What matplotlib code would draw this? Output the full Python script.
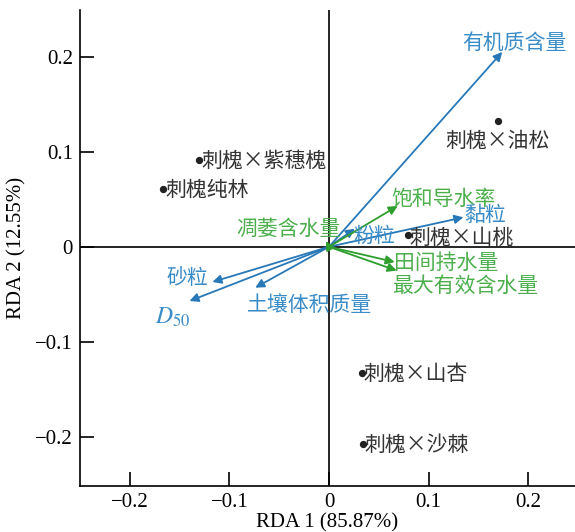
import matplotlib
matplotlib.use('Agg')
import matplotlib.pyplot as plt
import numpy as np

plt.rcParams['font.family'] = ['Liberation Serif', 'Noto Sans CJK SC']
plt.rcParams['mathtext.fontset'] = 'stix'
cjk = ['Noto Sans CJK SC', 'DejaVu Sans']

# sample sites (RDA scores)
site_names = ['刺槐×紫穗槐', '刺槐纯林', '刺槐×油松', '刺槐×山桃', '刺槐×山杏', '刺槐×沙棘']
site_x = [-0.1305, -0.1667, 0.170, 0.079, 0.033, 0.034]
site_y = [0.0916, 0.061, 0.1326, 0.0126, -0.133, -0.207]

# soil property vectors (blue)
soil_names = ['有机质含量', '黏粒', '粉粒', '砂粒', r'$D_{50}$', '土壤体积质量']
soil_x = [0.174, 0.135, 0.026, -0.117, -0.140, -0.074]
soil_y = [0.205, 0.031, 0.019, -0.037, -0.057, -0.043]

# water property vectors (green)
water_names = ['饱和导水率', '凋萎含水量', '田间持水量', '最大有效含水量']
water_x = [0.069, -0.003, 0.066, 0.068]
water_y = [0.043, 0.006, -0.016, -0.025]

blue = '#2878b8'
blue_txt = '#3a8cc8'
green = '#2e9e2e'
green_txt = '#4caf4c'

fig = plt.figure(figsize=(5.75, 5.32), dpi=100)
ax = fig.add_axes([0.139, 0.0865, 0.861, 0.8945])
ax.set_xlim(-0.25, 0.247)
ax.set_ylim(-0.2516, 0.249)

ax.axhline(0, color='black', lw=1.2, zorder=1)
ax.axvline(0, color='black', lw=1.2, zorder=1)

def draw_vec(x, y, col):
    ax.annotate('', xy=(x, y), xytext=(0, 0),
                arrowprops=dict(arrowstyle='-|>', color=col, lw=1.3,
                                mutation_scale=13, shrinkA=0, shrinkB=0),
                zorder=3)

for x, y in zip(soil_x, soil_y):
    draw_vec(x, y, blue)
for x, y in zip(water_x, water_y):
    draw_vec(x, y, green)

ax.scatter(site_x, site_y, s=18, color='#222222', zorder=4)

fs = 15
# site labels
for n, x, y in zip(site_names, site_x, site_y):
    if n == '刺槐×油松':
        ax.text(x - 0.001, y - 0.021, n, fontsize=fs, color='#333333',
                ha='center', va='center', family=cjk)
    elif n == '刺槐×山桃':
        ax.text(x + 0.002, y - 0.003, n, fontsize=fs, color='#333333',
                ha='left', va='center', family=cjk)
    else:
        ax.text(x + 0.002, y - 0.001, n, fontsize=fs, color='#333333',
                ha='left', va='center', family=cjk)

# vector labels
soil_lab = [(0.186, 0.214), (0.157, 0.033), (0.045, 0.0115),
             (-0.142, -0.033), (-0.157, -0.074), (-0.019, -0.061)]
for n, (x, y) in zip(soil_names, soil_lab):
    if n.startswith('$'):
        ax.text(x, y, n, fontsize=17, color=blue_txt, ha='center', va='center')
    else:
        ax.text(x, y, n, fontsize=fs, color=blue_txt, ha='center', va='center',
                family=cjk)

water_lab = [(0.115, 0.0505), (-0.041, 0.019), (0.118, -0.0165), (0.137, -0.041)]
for n, (x, y) in zip(water_names, water_lab):
    ax.text(x, y, n, fontsize=fs, color=green_txt, ha='center', va='center',
            family=cjk)

ax.spines['top'].set_visible(False)
ax.spines['right'].set_visible(False)
ax.spines['left'].set_linewidth(1.2)
ax.spines['bottom'].set_linewidth(1.2)

ax.set_xticks([-0.2, -0.1, 0, 0.1, 0.2])
ax.set_xticklabels(['\u22120.2', '\u22120.1', '0', '0.1', '0.2'])
ax.set_yticks([-0.2, -0.1, 0, 0.1, 0.2])
ax.set_yticklabels(['\u22120.2', '\u22120.1', '0', '0.1', '0.2'])
ax.tick_params(direction='in', length=10, width=1.2, labelsize=15, pad=5)

ax.set_xlabel('RDA 1 (85.87%)', fontsize=15, labelpad=1)
ax.set_ylabel('RDA 2 (12.55%)', fontsize=15, labelpad=6)

fig.savefig('out.png', dpi=100)
